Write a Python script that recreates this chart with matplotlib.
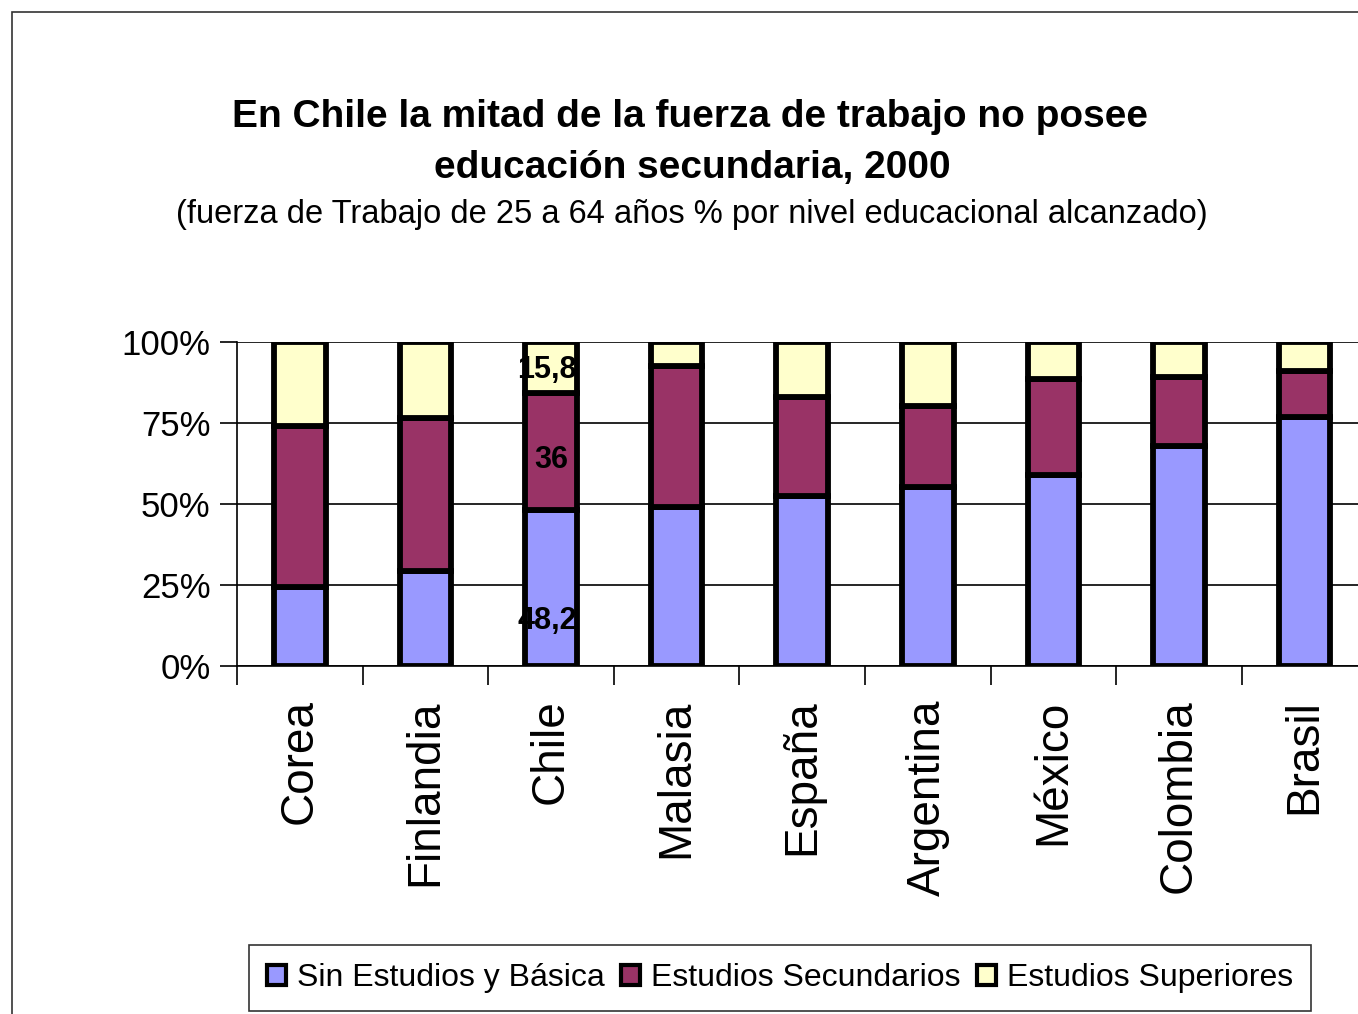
import matplotlib.pyplot as plt
import numpy as np

plt.rcParams['font.family'] = ['Liberation Sans', 'DejaVu Sans']

# Data (% of labour force 25-64 by education level)
paises = ['Corea', 'Finlandia', 'Chile', 'Malasia', 'España', 'Argentina', 'México', 'Colombia', 'Brasil']
basica = [24.5, 29.3, 48.2, 49.0, 52.5, 55.2, 58.8, 67.8, 77.0]
secundaria = [49.5, 47.2, 36.0, 43.5, 30.5, 25.0, 29.8, 21.5, 14.0]
superior = [26.0, 23.5, 15.8, 7.5, 17.0, 19.8, 11.4, 10.7, 9.0]
series_names = ['Sin Estudios y Básica', 'Estudios Secundarios', 'Estudios Superiores']
colores = ['#9999ff', '#993366', '#ffffcc']

W, H = 1358, 1014
fig = plt.figure(figsize=(W / 100, H / 100), dpi=100)

# outer chart frame (cropped at right/bottom)
fig.patches.append(plt.Rectangle((12 / W, -0.1), 1.2, 1 - 12 / H + 0.1, transform=fig.transFigure,
                                 fill=False, edgecolor='#333333', linewidth=1.2))

ax_left, ax_right_px = 237, 237 + 9 * 125.6
ax_bottom, ax_top = 666, 342
ax = fig.add_axes([ax_left / W, 1 - ax_bottom / H, (ax_right_px - ax_left) / W, (ax_bottom - ax_top) / H])

x = np.arange(len(paises))
b = np.array(basica)
s = np.array(secundaria)
u = np.array(superior)
tot = b + s + u
vals = [b / tot * 100, s / tot * 100, u / tot * 100]

bottom = np.zeros(len(paises))
for v, name, c in zip(vals, series_names, colores):
    ax.bar(x, v, 0.41, bottom=bottom, color=c, edgecolor='black', linewidth=4.2, label=name, zorder=3)
    bottom += v

# Chile labels
ci = paises.index('Chile')
ax.text(ci - 0.03, 91.5, '15,8', ha='center', va='center', fontsize=22, fontweight='bold', zorder=4)
ax.text(ci, 63.5, '36', ha='center', va='center', fontsize=22, fontweight='bold', zorder=4)
ax.text(ci - 0.03, 13.8, '48,2', ha='center', va='center', fontsize=22, fontweight='bold', zorder=4)

ax.set_xlim(-0.5, len(paises) - 0.5)
ax.set_ylim(0, 100)
ax.set_yticks([0, 25, 50, 75, 100])
ax.set_yticklabels(['0%', '25%', '50%', '75%', '100%'], fontsize=25)
ax.yaxis.grid(True, color='black', linewidth=1.2, zorder=0)
ax.tick_params(axis='y', length=12, width=1.2, pad=7)

ax.set_xticks(x)
ax.set_xticklabels(paises, rotation=90, fontsize=33)
ax.tick_params(axis='x', length=0, pad=24)
ax.set_xticks(np.arange(len(paises)) - 0.5, minor=True)
ax.tick_params(axis='x', which='minor', length=14, width=1.2)

for sp in ['top', 'right']:
    ax.spines[sp].set_visible(False)
ax.spines['left'].set_linewidth(1.2)
ax.spines['bottom'].set_linewidth(1.2)

fig.text(690 / W, 1 - 117 / H, 'En Chile la mitad de la fuerza de trabajo no posee', ha='center', va='center',
         fontsize=28, fontweight='bold')
fig.text(692 / W, 1 - 168 / H, 'educación secundaria, 2000', ha='center', va='center',
         fontsize=28, fontweight='bold')
fig.text(692 / W, 1 - 215 / H, '(fuerza de Trabajo de 25 a 64 años % por nivel educacional alcanzado)',
         ha='center', va='center', fontsize=23.5)

leg = fig.legend(loc='center', bbox_to_anchor=(780 / W, 1 - 978 / H), ncol=3, fontsize=23,
                 frameon=True, fancybox=False, edgecolor='black', handlelength=0.6, handleheight=0.6,
                 handletextpad=0.35, columnspacing=0.5, borderpad=0.55, borderaxespad=0)
leg.get_frame().set_linewidth(1.2)
for h in leg.legend_handles:
    h.set_linewidth(3)

fig.savefig('out.png', dpi=100)
